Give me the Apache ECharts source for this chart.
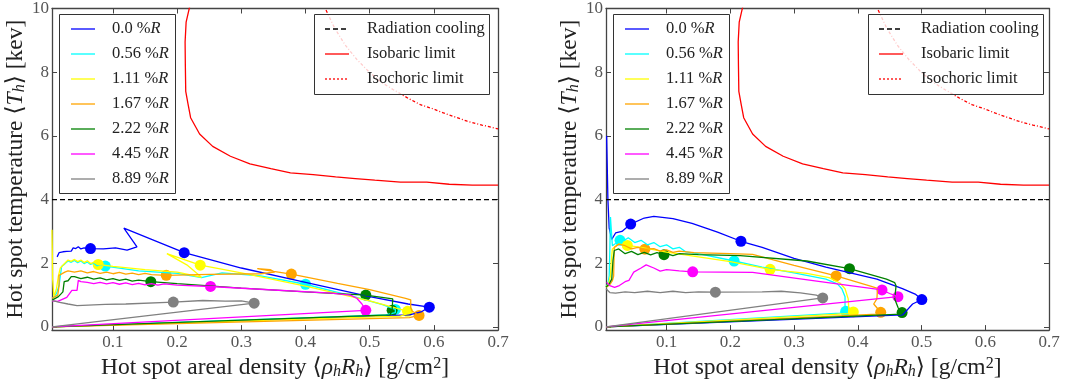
<!DOCTYPE html>
<html><head><meta charset="utf-8">
<script src="https://cdn.jsdelivr.net/npm/echarts@6/dist/echarts.min.js"></script>
<style>html,body{margin:0;padding:0;background:#fff}#c{width:1083px;height:385px}</style>
</head><body><div id="c"></div>
<script>
// ---------- axes ----------
const xTicks = [0.1, 0.2, 0.3, 0.4, 0.5, 0.6, 0.7];
const yTicks = [0, 2, 4, 6, 8, 10];
const X_MIN = 0.005, X_MAX = 0.7, Y_MIN = -0.1, Y_MAX = 10;

// ---------- series meta ----------
const seriesNames = ['0.0', '0.56', '1.11', '1.67', '2.22', '4.45', '8.89'];
const seriesColors = ['#0000ff', '#00ffff', '#ffff00', '#ffa500', '#008000', '#ff00ff', '#808080'];
const limitNames = ['Radiation cooling', 'Isobaric limit', 'Isochoric limit'];

// ---------- limits ----------
const radiationT = [4, 4];
const isobaric = [[0.22,10.1],[0.214,9.57],[0.2124,8.95],[0.2128,8.2],[0.2134,7.4],[0.217,7.0],[0.221,6.57],[0.235,6.06],[0.2554,5.67],[0.283,5.36],[0.3134,5.12],[0.346,4.97],[0.3766,4.84],[0.412,4.78],[0.447,4.71],[0.4776,4.66],[0.508,4.61],[0.548,4.55],[0.589,4.55],[0.624,4.48],[0.66,4.45],[0.70,4.45]];
const isochoric = [[0.432,9.95],[0.445,9.4],[0.462,8.85],[0.48,8.4],[0.5,7.99],[0.52,7.66],[0.537,7.45],[0.56,7.18],[0.579,6.98],[0.6,6.84],[0.615,6.72],[0.635,6.58],[0.652,6.46],[0.675,6.34],[0.70,6.22]];

// ---------- left panel trajectories ----------
const L_blue = [[0.005,0.0],[0.562,0.38],[0.58,0.47],[0.593,0.62],[0.56,0.72],[0.5,0.95],[0.4,1.4],[0.3,1.85],[0.211,2.33],[0.117,3.1],[0.1374,2.51],[0.122,2.41],[0.104,2.48],[0.085,2.45],[0.065,2.46],[0.055,2.48],[0.05,2.45],[0.046,2.52],[0.042,2.46],[0.038,2.48],[0.035,2.38],[0.032,2.43],[0.028,2.37],[0.025,2.42],[0.022,2.36],[0.019,2.4],[0.016,2.33],[0.014,2.37],[0.013,2.2]];
const L_blue_m = [[0.065,2.46],[0.211,2.33],[0.593,0.62]];
const L_cyan = [[0.005,0.0],[0.525,0.38],[0.54,0.45],[0.54,0.55],[0.52,0.7],[0.47,0.98],[0.4,1.34],[0.33,1.6],[0.27,1.7],[0.238,1.55],[0.2,1.68],[0.14,1.76],[0.088,1.91],[0.08,1.95],[0.075,1.92],[0.07,2.0],[0.065,1.96],[0.06,2.04],[0.055,1.99],[0.05,2.07],[0.045,2.02],[0.04,2.09],[0.035,2.03],[0.03,2.07],[0.025,1.98],[0.02,1.9],[0.018,1.6],[0.016,1.3],[0.012,1.05],[0.006,0.9]];
const L_cyan_m = [[0.088,1.91],[0.4,1.34],[0.54,0.55]];
const L_yellow = [[0.005,0.0],[0.548,0.34],[0.559,0.42],[0.559,0.49],[0.54,0.6],[0.5,0.82],[0.4,1.28],[0.3,1.7],[0.236,1.94],[0.184,2.3],[0.215,1.95],[0.238,1.56],[0.2,1.72],[0.15,1.8],[0.1,1.9],[0.077,1.96],[0.07,2.03],[0.065,1.99],[0.06,2.08],[0.055,2.02],[0.05,2.1],[0.045,2.05],[0.04,2.12],[0.035,2.06],[0.03,2.1],[0.025,2.0],[0.018,1.85],[0.015,1.6],[0.012,1.2],[0.008,0.95],[0.006,1.5],[0.005,3.05]];
const L_yellow_m = [[0.077,1.96],[0.236,1.94],[0.559,0.49]];
const L_orange = [[0.005,0.0],[0.562,0.29],[0.577,0.36],[0.566,0.5],[0.564,0.6],[0.564,0.85],[0.556,0.9],[0.5,1.17],[0.45,1.37],[0.378,1.66],[0.345,1.76],[0.325,1.83],[0.345,1.8],[0.352,1.72],[0.33,1.67],[0.25,1.65],[0.183,1.62],[0.16,1.64],[0.15,1.68],[0.14,1.64],[0.13,1.69],[0.12,1.66],[0.11,1.71],[0.1,1.67],[0.09,1.72],[0.08,1.68],[0.07,1.74],[0.06,1.7],[0.05,1.76],[0.04,1.72],[0.03,1.76],[0.025,1.72],[0.016,1.62],[0.016,1.3],[0.014,1.0],[0.008,0.93],[0.005,0.9]];
const L_orange_m = [[0.183,1.62],[0.378,1.66],[0.577,0.36]];
const L_green = [[0.005,0.0],[0.532,0.38],[0.535,0.52],[0.536,0.88],[0.494,1.0],[0.4,1.1],[0.3,1.22],[0.2,1.36],[0.159,1.42],[0.14,1.47],[0.13,1.44],[0.12,1.5],[0.11,1.46],[0.1,1.52],[0.09,1.48],[0.08,1.54],[0.07,1.5],[0.06,1.56],[0.05,1.52],[0.04,1.58],[0.035,1.58],[0.03,1.45],[0.024,1.42],[0.022,1.1],[0.015,0.95],[0.006,0.85]];
const L_green_m = [[0.159,1.42],[0.494,1.0],[0.535,0.52]];
const L_magenta = [[0.005,0.0],[0.494,0.52],[0.488,0.72],[0.48,0.9],[0.47,1.0],[0.44,1.06],[0.35,1.16],[0.252,1.27],[0.2,1.31],[0.18,1.35],[0.17,1.31],[0.16,1.36],[0.15,1.32],[0.14,1.37],[0.13,1.33],[0.12,1.38],[0.11,1.34],[0.1,1.39],[0.09,1.35],[0.08,1.4],[0.07,1.36],[0.06,1.4],[0.05,1.42],[0.046,1.46],[0.044,1.15],[0.036,1.15],[0.028,0.93],[0.014,0.8],[0.005,0.82]];
const L_magenta_m = [[0.252,1.27],[0.494,0.52]];
const L_gray = [[0.005,0.0],[0.32,0.745],[0.3,0.82],[0.275,0.81],[0.24,0.83],[0.194,0.78],[0.12,0.72],[0.088,0.71],[0.044,0.67],[0.03,0.72],[0.015,0.78],[0.005,0.83]];
const L_gray_m = [[0.194,0.78],[0.32,0.745]];

// ---------- right panel trajectories ----------
const R_blue = [[0.005,0.0],[0.4705,0.38],[0.486,0.72],[0.5005,0.86],[0.49,1.03],[0.47,1.2],[0.43,1.5],[0.35,1.88],[0.3,2.15],[0.25,2.5],[0.2167,2.69],[0.18,2.98],[0.14,3.25],[0.11,3.4],[0.08,3.47],[0.065,3.42],[0.0437,3.23],[0.03,3.0],[0.02,2.95],[0.014,2.75],[0.01,3.1],[0.008,4.0],[0.006,6.0]];
const R_blue_m = [[0.0437,3.23],[0.2167,2.69],[0.5005,0.86]];
const R_cyan = [[0.005,0.0],[0.372,0.43],[0.381,0.49],[0.38,0.6],[0.38,0.95],[0.375,1.2],[0.368,1.35],[0.35,1.5],[0.3,1.7],[0.25,1.88],[0.206,2.07],[0.15,2.3],[0.13,2.36],[0.12,2.5],[0.11,2.45],[0.1,2.58],[0.09,2.52],[0.08,2.65],[0.07,2.58],[0.06,2.72],[0.05,2.65],[0.04,2.8],[0.034,2.72],[0.027,2.72],[0.02,2.62],[0.015,2.55],[0.012,3.45],[0.011,2.4],[0.01,1.6],[0.008,1.35],[0.005,1.25]];
const R_cyan_m = [[0.027,2.72],[0.206,2.07],[0.381,0.49]];
const R_yellow = [[0.005,0.0],[0.385,0.42],[0.393,0.47],[0.386,0.55],[0.385,0.88],[0.38,1.2],[0.372,1.38],[0.355,1.55],[0.32,1.68],[0.2625,1.81],[0.2,2.05],[0.15,2.2],[0.1,2.35],[0.06,2.5],[0.0385,2.56],[0.025,2.6],[0.015,2.45],[0.013,2.0],[0.012,1.6],[0.009,1.35],[0.005,1.25]];
const R_yellow_m = [[0.0385,2.56],[0.2625,1.81],[0.393,0.47]];
const R_orange = [[0.005,0.0],[0.43,0.4],[0.436,0.46],[0.425,0.72],[0.43,0.88],[0.431,1.21],[0.42,1.28],[0.366,1.6],[0.3,1.93],[0.235,2.28],[0.2,2.3],[0.143,2.33],[0.12,2.38],[0.11,2.34],[0.1,2.42],[0.09,2.38],[0.08,2.46],[0.066,2.44],[0.055,2.5],[0.045,2.45],[0.035,2.55],[0.025,2.6],[0.018,2.5],[0.017,1.6],[0.015,1.45],[0.01,1.3],[0.005,1.25]];
const R_orange_m = [[0.066,2.44],[0.366,1.6],[0.436,0.46]];
const R_green = [[0.005,0.0],[0.468,0.4],[0.4695,0.45],[0.463,0.62],[0.458,0.88],[0.46,1.29],[0.458,1.39],[0.445,1.5],[0.387,1.83],[0.32,2.07],[0.2156,2.24],[0.15,2.27],[0.12,2.3],[0.11,2.24],[0.1,2.3],[0.096,2.27],[0.085,2.33],[0.075,2.26],[0.065,2.34],[0.055,2.27],[0.045,2.37],[0.035,2.3],[0.025,2.45],[0.018,2.4],[0.016,2.1],[0.014,1.5],[0.01,1.35],[0.005,1.25]];
const R_green_m = [[0.096,2.27],[0.387,1.83],[0.4695,0.45]];
const R_magenta = [[0.005,0.0],[0.463,0.95],[0.45,1.05],[0.438,1.16],[0.35,1.4],[0.235,1.71],[0.141,1.73],[0.12,1.76],[0.1,1.8],[0.09,1.75],[0.08,1.85],[0.068,1.95],[0.06,1.85],[0.0485,1.72],[0.045,1.6],[0.041,1.46],[0.035,1.42],[0.026,1.3],[0.0185,1.24],[0.011,1.3],[0.006,1.4]];
const R_magenta_m = [[0.141,1.73],[0.438,1.16],[0.463,0.95]];
const R_gray = [[0.005,0.0],[0.345,0.91],[0.335,1.0],[0.31,1.07],[0.28,1.12],[0.25,1.1],[0.1766,1.09],[0.15,1.1],[0.13,1.08],[0.11,1.12],[0.09,1.08],[0.07,1.12],[0.05,1.08],[0.035,1.1],[0.02,1.06],[0.011,1.08],[0.005,1.2]];
const R_gray_m = [[0.1766,1.09],[0.345,0.91]];

const panels = [
  {lines: [L_blue, L_cyan, L_yellow, L_orange, L_green, L_magenta, L_gray],
   marks: [L_blue_m, L_cyan_m, L_yellow_m, L_orange_m, L_green_m, L_magenta_m, L_gray_m]},
  {lines: [R_blue, R_cyan, R_yellow, R_orange, R_green, R_magenta, R_gray],
   marks: [R_blue_m, R_cyan_m, R_yellow_m, R_orange_m, R_green_m, R_magenta_m, R_gray_m]}
];

// ---------- styling ----------
const FONT = '"Liberation Serif", "DejaVu Serif", serif';
const AX = '#444';
const grids = [{left: 52, top: 6, width: 446, height: 326}, {left: 606, top: 6, width: 443, height: 326}];
const nameRich = {
  t: {fontFamily: FONT, fontSize: 23.5, color: '#222'},
  i: {fontFamily: FONT, fontSize: 23.5, fontStyle: 'italic', color: '#222'},
  s: {fontFamily: FONT, fontSize: 16, fontStyle: 'italic', color: '#222', verticalAlign: 'bottom'},
  p: {fontFamily: FONT, fontSize: 16, color: '#222', verticalAlign: 'top'}
};
const xName = '{t|Hot spot areal density \u27E8}{i|\u03C1}{s|h}{i|R}{s|h}{t|\u27E9 [g/cm}{p|2}{t|]}';
const yName = '{t|Hot spot temperature \u27E8}{i|T}{s|h}{t|\u27E9 [kev]}';

function xAx(g, pos, lab) {
  return {type: 'value', gridIndex: g, position: pos, min: X_MIN, max: X_MAX,
    axisLine: {show: true, onZero: false, lineStyle: {color: AX, width: 1.3}},
    axisTick: {show: true, inside: true, length: 5, customValues: xTicks, lineStyle: {color: AX, width: 1}},
    axisLabel: {show: lab, customValues: xTicks, formatter: v => v.toFixed(1), color: '#555', fontFamily: FONT, fontSize: 17, margin: 4},
    splitLine: {show: false},
    name: lab ? xName : '', nameLocation: 'middle', nameGap: 19,
    nameTextStyle: {rich: nameRich}};
}
function yAx(g, pos, lab) {
  return {type: 'value', gridIndex: g, position: pos, min: Y_MIN, max: Y_MAX,
    axisLine: {show: true, onZero: false, lineStyle: {color: AX, width: 1.3}},
    axisTick: {show: true, inside: true, length: 5, customValues: yTicks, lineStyle: {color: AX, width: 1}},
    axisLabel: {show: lab, customValues: yTicks, formatter: v => String(v), color: '#555', fontFamily: FONT, fontSize: 17, margin: 3},
    splitLine: {show: false},
    name: lab ? yName : '', nameLocation: 'middle', nameGap: 17,
    nameTextStyle: {rich: nameRich}};
}

const xAxis = [], yAxis = [], series = [];
grids.forEach((g, p) => {
  xAxis.push(xAx(p, 'bottom', true), xAx(p, 'top', false));
  yAxis.push(yAx(p, 'left', true), yAx(p, 'right', false));
  const xi = 2 * p, yi = 2 * p;
  panels[p].lines.forEach((ln, k) => {
    series.push({type: 'line', name: seriesNames[k], xAxisIndex: xi, yAxisIndex: yi, data: ln,
      symbol: 'none', lineStyle: {color: seriesColors[k], width: 1.3}, itemStyle: {color: seriesColors[k]}, silent: true});
    series.push({type: 'scatter', xAxisIndex: xi, yAxisIndex: yi, data: panels[p].marks[k],
      symbol: 'circle', symbolSize: 11, itemStyle: {color: seriesColors[k], opacity: 1}, silent: true});
  });
  series.push({type: 'line', name: limitNames[0], xAxisIndex: xi, yAxisIndex: yi,
    data: [[X_MIN, radiationT[0]], [X_MAX, radiationT[1]]], symbol: 'none',
    lineStyle: {color: '#000', width: 1.3, type: [5, 3]}, silent: true});
  series.push({type: 'line', name: limitNames[1], xAxisIndex: xi, yAxisIndex: yi, data: isobaric, symbol: 'none',
    lineStyle: {color: '#ff0000', width: 1.3}, silent: true});
  series.push({type: 'line', name: limitNames[2], xAxisIndex: xi, yAxisIndex: yi, data: isochoric, symbol: 'none',
    lineStyle: {color: '#ff0000', width: 1.3, type: [3, 2, 1, 2]}, silent: true});
});

// ---------- legends (drawn as graphic boxes) ----------
const legRich = {
  a: {fontFamily: FONT, fontSize: 16.5, fill: '#222'},
  b: {fontFamily: FONT, fontSize: 16.5, fontStyle: 'italic', fill: '#222'}
};
function legends(ox) {
  const els = [];
  els.push({type: 'rect', z: 100, shape: {x: 59.5 + ox, y: 14.5, width: 116, height: 179},
    style: {fill: 'rgba(255,255,255,0.8)', stroke: '#333', lineWidth: 1}});
  seriesNames.forEach((n, i) => {
    const y = 29 + 25 * i;
    els.push({type: 'line', z: 101, shape: {x1: 71 + ox, y1: y, x2: 95 + ox, y2: y},
      style: {stroke: seriesColors[i], lineWidth: 1.3}});
    els.push({type: 'text', z: 101, x: 112 + ox, y: y,
      style: {text: '{a|' + n + ' %}{b|R}', rich: legRich, verticalAlign: 'middle', align: 'left'}});
  });
  els.push({type: 'rect', z: 100, shape: {x: 314.5 + ox, y: 14.5, width: 175, height: 80},
    style: {fill: 'rgba(255,255,255,0.8)', stroke: '#333', lineWidth: 1}});
  const st = [{stroke: '#000', lineDash: [5, 3]}, {stroke: '#ff0000'}, {stroke: '#ff0000', lineDash: [2, 2]}];
  limitNames.forEach((n, i) => {
    const y = 29 + 25 * i;
    els.push({type: 'line', z: 101, shape: {x1: 325 + ox, y1: y, x2: 349 + ox, y2: y},
      style: Object.assign({lineWidth: 1.3}, st[i])});
    els.push({type: 'text', z: 101, x: 367 + ox, y: y,
      style: {text: '{a|' + n + '}', rich: legRich, verticalAlign: 'middle', align: 'left'}});
  });
  return els;
}

const chart = echarts.init(document.getElementById('c'), null, {renderer: 'canvas'});
chart.setOption({
  animation: false,
  backgroundColor: '#fff',
  grid: grids,
  xAxis: xAxis,
  yAxis: yAxis,
  series: series,
  graphic: legends(0).concat(legends(554))
});
</script>
</body></html>
